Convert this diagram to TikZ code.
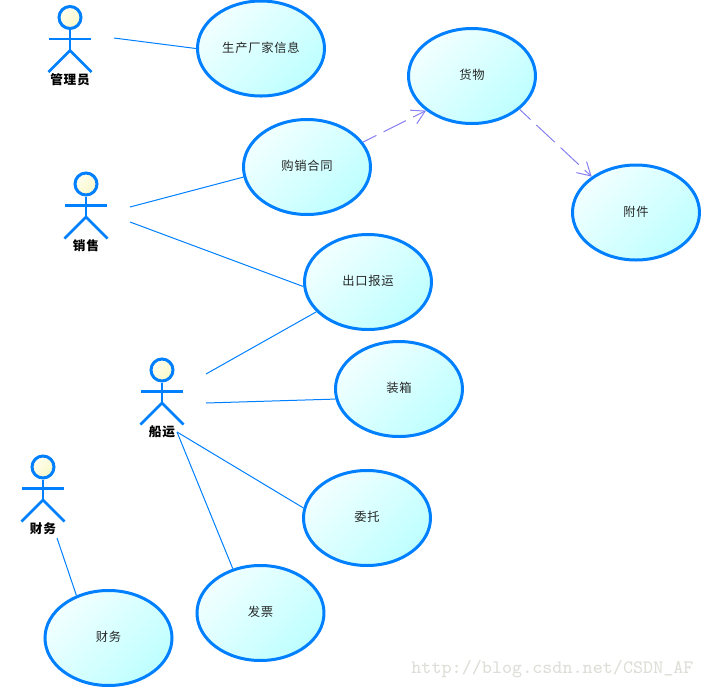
\documentclass[tikz,border=0pt]{standalone}
\usepackage{fontspec}
\usepackage{xcolor}
\usepackage{tikz}
\usetikzlibrary{shapes.geometric,arrows.meta}
\newfontfamily\cjk{Noto Sans CJK SC}[LetterSpace=6]
\definecolor{umlblue}{RGB}{0,128,255}
\definecolor{umlpurple}{RGB}{136,128,240}
\definecolor{markgray}{RGB}{222,222,216}
\definecolor{caselight}{RGB}{242,255,255}
\definecolor{casedark}{RGB}{190,255,255}
\definecolor{headlight}{RGB}{255,255,240}
\definecolor{headdark}{RGB}{248,248,200}
\tikzset{
	usecase/.style={ellipse,draw=umlblue,line width=.03cm,inner sep=0,
		minimum width=1.27cm,minimum height=.95cm,
		shade,top color=caselight,bottom color=casedark,shading angle=45,
		text height=.09cm,text depth=.02cm,
		font=\cjk\fontsize{3.5}{4}\selectfont,text=black!85},
	actorhead/.style={circle,draw=umlblue,line width=.03cm,inner sep=0,minimum size=.22cm,
		shade,top color=headlight,bottom color=headdark,shading angle=45},
	actorbody/.style={draw=umlblue,line width=.025cm},
	actorname/.style={font=\cjk\bfseries\fontsize{3.6}{4}\selectfont,inner sep=0},
	link/.style={draw=umlblue,line width=.01cm},
	include/.style={draw=umlpurple,line width=.01cm,dash pattern=on .25cm off .08cm,dash phase=.1cm,
		-{Straight Barb[length=.13cm,width=.15cm,line width=.01cm]}}
}

\begin{document}
\begin{tikzpicture}
	\useasboundingbox (0,0) rectangle (7.03,-6.89);

	\foreach \n/\x/\y/\t in {mgr/.70/-.175/管理员,sales/.86/-1.84/销售,ship/1.62/-3.70/船运,fin/.43/-4.67/财务}{
		\node[actorhead] (\n) at (\x,\y) {};
		\node[actorname] (\n name) at (\x,\y-.62) {\t};
		\draw[actorbody] (\n.south) -- ++(0,-.205) coordinate (\n hip);
		\draw[actorbody] ([shift={(-.21,-.215)}]\n.center) -- ++(.42,0);
		\draw[actorbody] (\n hip) -- ++(-.215,-.215);
		\draw[actorbody] (\n hip) -- ++(.215,-.215);
	}

	\node[usecase] (maker) at (2.61,-.485) {生产厂家信息};
	\node[usecase] (contract) at (3.07,-1.67) {购销合同};
	\node[usecase] (goods) at (4.72,-.76) {货物};
	\node[usecase] (parts) at (6.36,-2.125) {附件};
	\node[usecase] (export) at (3.68,-2.82) {出口报运};
	\node[usecase] (packing) at (3.99,-3.89) {装箱};
	\node[usecase] (entrust) at (3.67,-5.18) {委托};
	\node[usecase] (invoice) at (2.605,-6.13) {发票};
	\node[usecase] (finance) at (1.085,-6.38) {财务};

	\coordinate (mgr out) at (1.14,-.38);
	\coordinate (sales outa) at (1.30,-2.07);
	\coordinate (sales outb) at (1.30,-2.22);
	\coordinate (ship outa) at (2.06,-3.74);
	\coordinate (ship outb) at (2.06,-4.03);
	\coordinate (ship outc) at (1.77,-4.32);
	\coordinate (fin out) at (.57,-5.38);

	\draw[link] (mgr out) -- (maker.west);
	\draw[link] (sales outa) -- (contract.189);
	\draw[link] (sales outb) -- (export.184);
	\draw[link] (ship outa) -- (export.210);
	\draw[link] (ship outb) -- (packing.189);
	\draw[link] (ship outc) -- (entrust.171);
	\draw[link] (ship outc) -- (invoice.122);
	\draw[link] (fin out) -- (finance.127);

	\draw[include] (contract.24) -- (goods.217);
	\draw[include] (goods.325) -- (parts.141);

	\node[font=\ttfamily\fontsize{5.4}{6}\selectfont,text=markgray,inner sep=0] (mark) at (5.525,-6.69) {http://blog.csdn.net/CSDN\_AF};
\end{tikzpicture}
\end{document}
